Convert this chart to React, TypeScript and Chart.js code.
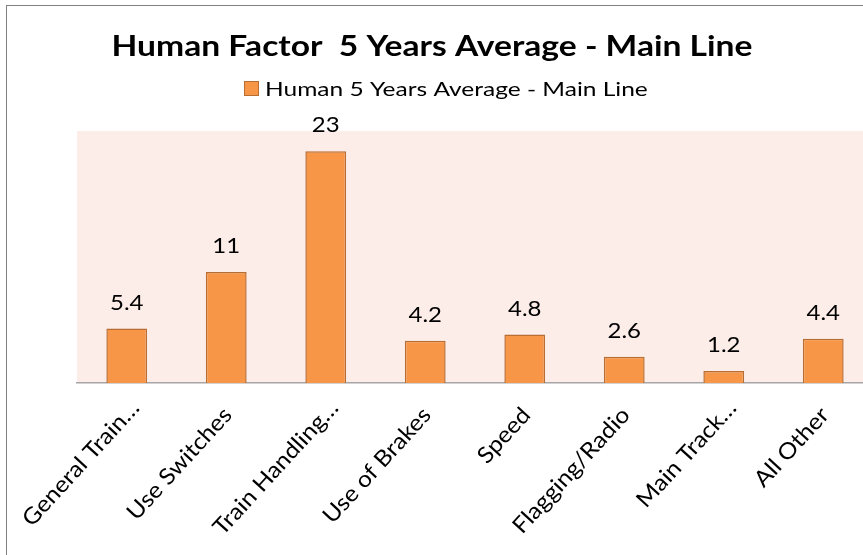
import React, { useEffect, useRef } from "react";
import { Chart, registerables } from "chart.js";

Chart.register(...registerables);

const categories = [
  "General Train…",
  "Use Switches",
  "Train Handling…",
  "Use of Brakes",
  "Speed",
  "Flagging/Radio",
  "Main Track…",
  "All Other",
];
const values = [5.4, 11, 23, 4.2, 4.8, 2.6, 1.2, 4.4];
const seriesName = "Human 5 Years Average - Main Line";
const chartTitle = "Human Factor  5 Years Average - Main Line";
const yMin = 0;
const yMax = 25;

const FONT = "Lato, 'Open Sans', sans-serif";
const BAR_FILL = "#F79646";
const BAR_EDGE = "#B86D32";
const LABEL_ANGLE = (-47.5 * Math.PI) / 180;

function stretchedText(ctx: any, text: string, x: number, y: number, sx: number, align: CanvasTextAlign) {
  ctx.save();
  ctx.translate(x, y);
  ctx.scale(sx, 1);
  ctx.textAlign = align;
  ctx.fillText(text, 0, 0);
  ctx.restore();
}

const plotBg = {
  id: "plotBg",
  beforeDraw(chart: any) {
    const { ctx, chartArea } = chart;
    ctx.save();
    ctx.fillStyle = "#FCEDE8";
    ctx.fillRect(chartArea.left, chartArea.top, chartArea.right - chartArea.left, chartArea.bottom - chartArea.top);
    ctx.restore();
  },
};

const texts = {
  id: "texts",
  afterDraw(chart: any) {
    const { ctx } = chart;
    ctx.save();
    ctx.fillStyle = "#000";
    ctx.textBaseline = "alphabetic";

    // title
    ctx.font = `bold 28px ${FONT}`;
    stretchedText(ctx, chartTitle, 432, 56, 1.2, "center");

    // legend
    const ds = chart.data.datasets[0];
    ctx.fillStyle = ds.backgroundColor;
    ctx.fillRect(244.5, 81.5, 14, 14);
    ctx.strokeStyle = ds.borderColor;
    ctx.lineWidth = 1;
    ctx.strokeRect(244.5, 81.5, 14, 14);
    ctx.fillStyle = "#000";
    ctx.font = `19px ${FONT}`;
    stretchedText(ctx, ds.label, 265, 96, 1.29, "left");

    // data labels
    const meta = chart.getDatasetMeta(0);
    const data = ds.data as number[];
    ctx.font = `20.5px ${FONT}`;
    meta.data.forEach((bar: any, i: number) => {
      stretchedText(ctx, String(data[i]), bar.x, bar.y - 19, 1.17, "center");
    });

    // category labels (rotated)
    const xs = chart.scales.x;
    ctx.font = `22.5px ${FONT}`;
    const labels = chart.data.labels as string[];
    labels.forEach((lab: string, i: number) => {
      const tx = xs.getPixelForTick(i);
      const shift = lab.endsWith("…") ? 10 : 0;
      ctx.save();
      ctx.translate(tx + 7 + shift * 0.7, xs.top + 33 - shift * 0.7);
      ctx.rotate(LABEL_ANGLE);
      ctx.scale(1.09, 1);
      ctx.textAlign = "right";
      ctx.fillText(lab, 0, 0);
      ctx.restore();
    });
    ctx.restore();
  },
};

export default function App() {
  const ref = useRef<HTMLCanvasElement | null>(null);
  useEffect(() => {
    if (!ref.current) return;
    const chart = new Chart(ref.current, {
      type: "bar",
      data: {
        labels: categories,
        datasets: [
          {
            label: seriesName,
            data: values,
            backgroundColor: BAR_FILL,
            borderColor: BAR_EDGE,
            borderWidth: 1.5,
            categoryPercentage: 1,
            barPercentage: 0.41,
          },
        ],
      },
      options: {
        animation: false,
        responsive: false,
        maintainAspectRatio: false,
        layout: { padding: { left: 0, right: 0, top: 131, bottom: 0 } },
        plugins: {
          title: { display: false },
          legend: { display: false },
          tooltip: { enabled: false },
        },
        scales: {
          x: {
            grid: { display: false },
            border: { display: true, color: "#A6A6A6", width: 1.5 },
            ticks: { display: false },
            afterFit: (scale: any) => {
              scale.height = 555 - 383;
            },
          },
          y: {
            min: yMin,
            max: yMax,
            grid: { display: false },
            border: { display: false },
            ticks: { display: false },
            afterFit: (scale: any) => {
              scale.width = 77;
            },
          },
        },
      },
      plugins: [plotBg, texts],
    });
    return () => chart.destroy();
  }, []);

  return (
    <div
      style={{
        position: "fixed",
        left: 0,
        top: 0,
        width: 863,
        height: 555,
        overflow: "hidden",
        background: "#fff",
      }}
    >
      <canvas ref={ref} width={873} height={555} style={{ position: "absolute", left: 0, top: 0, width: 873, height: 555 }} />
      <div
        style={{
          position: "absolute",
          left: 6,
          top: 5,
          width: 2000,
          height: 2000,
          borderLeft: "1px solid #808080",
          borderTop: "1px solid #808080",
          pointerEvents: "none",
        }}
      />
    </div>
  );
}
